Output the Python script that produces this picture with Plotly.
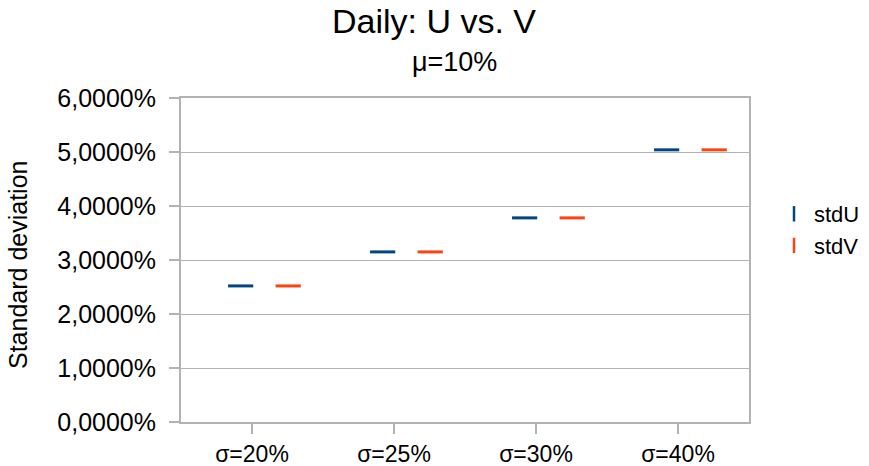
import plotly.graph_objects as go

categories = ["σ=20%", "σ=25%", "σ=30%", "σ=40%"]
stdU = [0.0252, 0.0315, 0.0378, 0.0504]
stdV = [0.0252, 0.0315, 0.0378, 0.0504]
y_ticks = [0, 0.01, 0.02, 0.03, 0.04, 0.05, 0.06]

BLUE = "#004586"
ORANGE = "#ff420e"
GRID = "#b3b3b3"
FONT = "Liberation Sans, Arial, sans-serif"
OFF_U, OFF_V = -0.08, 0.255

W, H = 869, 466
L, R, T, B = 181, 120, 98, 44
pw, ph = W - L - R, H - T - B

idx = list(range(len(categories)))
fig = go.Figure()
for name, vals, off, col in [("stdU", stdU, OFF_U, BLUE), ("stdV", stdV, OFF_V, ORANGE)]:
    fig.add_trace(go.Scatter(
        x=[i + off for i in idx], y=vals, mode="markers", showlegend=False,
        marker=dict(symbol="line-ew", size=18, line=dict(color=col, width=3)),
        hoverinfo="y"))
    fig.add_trace(go.Scatter(
        x=[None], y=[None], mode="markers", name=name,
        marker=dict(symbol="line-ns", size=11, line=dict(color=col, width=2.5))))

fig.update_layout(
    width=W, height=H,
    margin=dict(l=L, r=R, t=T, b=B, autoexpand=False),
    paper_bgcolor="white", plot_bgcolor="white",
    font=dict(family=FONT, color="black", size=22),
    separators=", ",
    showlegend=True,
    legend=dict(xref="container", yref="container", x=774 / W, y=1 - 230 / H,
                xanchor="left", yanchor="middle",
                font=dict(size=22), itemwidth=30, tracegroupgap=0,
                bgcolor="rgba(0,0,0,0)"),
    xaxis=dict(range=[-0.5, len(categories) - 0.5], tickvals=idx, ticktext=categories,
               showgrid=False, zeroline=False, showline=True, linecolor=GRID, linewidth=2,
               mirror=True, ticks="outside", ticklen=10, tickcolor=GRID, tickwidth=2,
               tickfont=dict(size=23), automargin=False),
    yaxis=dict(range=[0, 0.06], tickvals=y_ticks, tickformat=".4%",
               showgrid=True, gridcolor=GRID, gridwidth=1, zeroline=False,
               showline=True, linecolor=GRID, linewidth=2, mirror=True,
               ticks="outside", ticklen=10, tickcolor=GRID, tickwidth=2,
               tickfont=dict(size=25), ticklabelstandoff=8, automargin=False),
    annotations=[
        dict(text="Daily: U vs. V", xref="paper", yref="paper",
             x=(434 - L) / pw, y=1 + (T - 21) / ph, xanchor="center", yanchor="middle",
             showarrow=False, font=dict(size=34)),
        dict(text="μ=10%", xref="paper", yref="paper",
             x=(454 - L) / pw, y=1 + (T - 62) / ph, xanchor="center", yanchor="middle",
             showarrow=False, font=dict(size=27)),
        dict(text="Standard deviation", xref="paper", yref="paper",
             x=(18 - L) / pw, y=(422 - 265) / ph, xanchor="center", yanchor="middle",
             textangle=-90, showarrow=False, font=dict(size=25)),
    ],
)

fig.write_html("out.html", post_script="document.body.style.margin='0';",
               config={"displayModeBar": False})
